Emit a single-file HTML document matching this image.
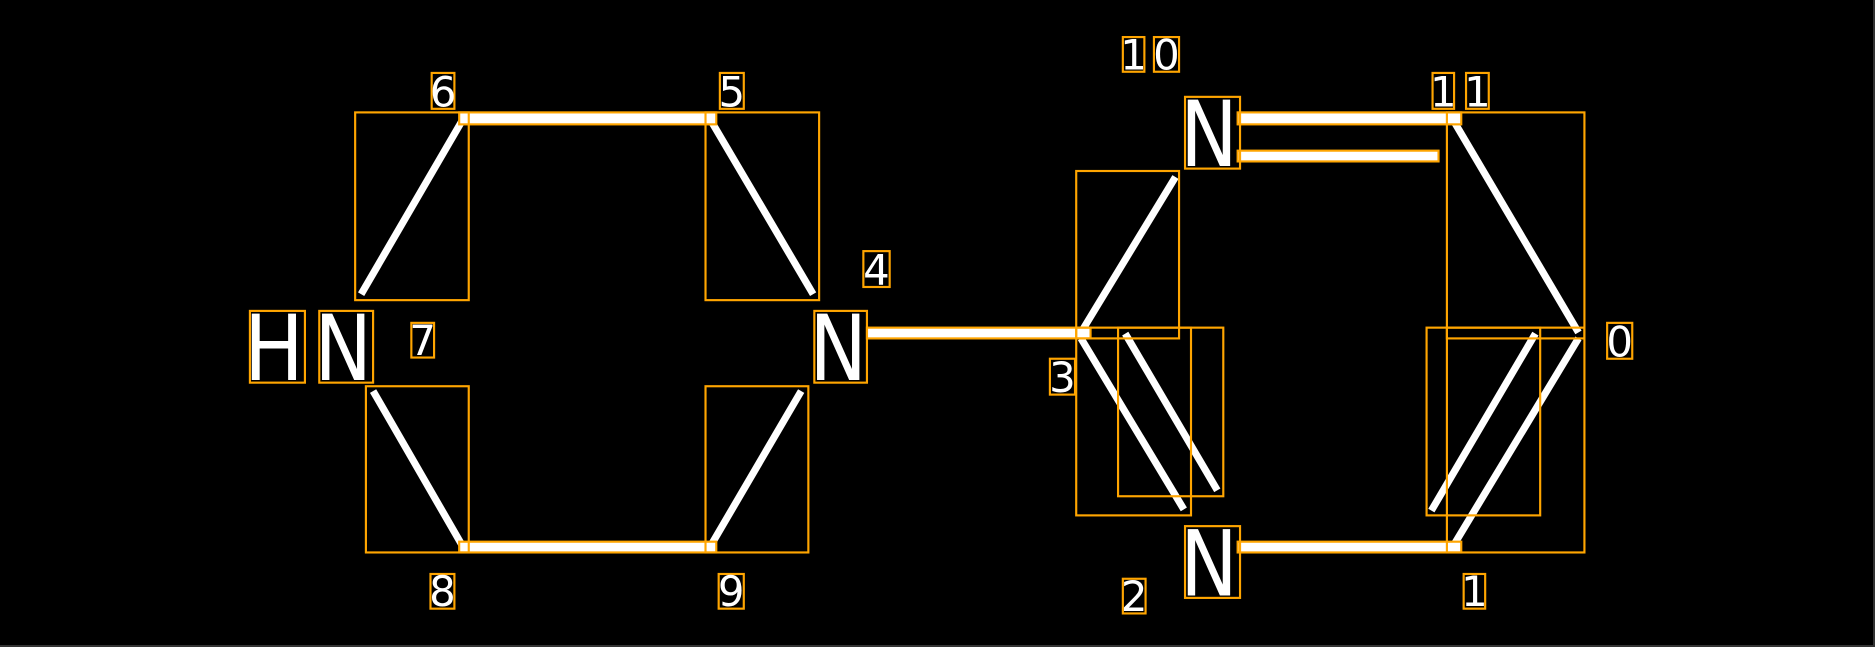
<!DOCTYPE html>
<html><head><style>
html,body{margin:0;padding:0;background:#000;}
svg{display:block;}
text{font-family:"DejaVu Sans","Liberation Sans",sans-serif;fill:#fff;}
</style></head><body>
<svg width="1875" height="647" viewBox="0 0 1875 647" xmlns="http://www.w3.org/2000/svg">
<rect x="0" y="0" width="1875" height="647" fill="#000"/>
<line x1="0" y1="646" x2="1875" y2="646" stroke="#333" stroke-width="2"/>
<line x1="1874" y1="0" x2="1874" y2="647" stroke="#333" stroke-width="2"/>
<g transform="scale(1.19579)">
<g stroke="#fff" stroke-width="6" stroke-linecap="butt">
<line x1="302" y1="246" x2="387" y2="100"/>
<line x1="594" y1="100" x2="680" y2="246"/>
<line x1="312" y1="327" x2="387" y2="457"/>
<line x1="594" y1="457" x2="670" y2="327"/>
<line x1="904" y1="278" x2="983" y2="148"/>
<line x1="1215" y1="100" x2="1320" y2="278"/>
<line x1="1320" y1="283" x2="1215" y2="457"/>
<line x1="1284" y1="279" x2="1197" y2="427"/>
<line x1="904" y1="283" x2="990" y2="426"/>
<line x1="941" y1="279" x2="1018" y2="410"/>
</g>
<g fill="#fff" stroke="none">
<rect x="384" y="94" width="215" height="10"/>
<rect x="384" y="453" width="215" height="9"/>
<rect x="725" y="274" width="187" height="9"/>
<rect x="1035" y="94" width="187" height="10"/>
<rect x="1035" y="126" width="168" height="9"/>
<rect x="1035" y="453" width="187" height="9"/>
</g>
<g fill="none" stroke="#FFA500" stroke-width="1.8">
<rect x="297" y="94" width="95" height="157"/>
<rect x="384" y="94" width="215" height="10"/>
<rect x="590" y="94" width="95" height="157"/>
<rect x="306" y="323" width="86" height="139"/>
<rect x="384" y="453" width="215" height="9"/>
<rect x="590" y="323" width="86" height="139"/>
<rect x="725" y="274" width="187" height="9"/>
<rect x="900" y="143" width="86" height="140"/>
<rect x="1035" y="94" width="187" height="10"/>
<rect x="1035" y="126" width="168" height="9"/>
<rect x="1210" y="94" width="115" height="189"/>
<rect x="1210" y="274" width="115" height="188"/>
<rect x="1193" y="274" width="95" height="157"/>
<rect x="1035" y="453" width="187" height="9"/>
<rect x="900" y="274" width="96" height="157"/>
<rect x="935" y="274" width="88" height="141"/>
<rect x="209" y="260" width="46" height="60"/>
<rect x="267" y="260" width="45" height="60"/>
<rect x="681" y="260" width="44" height="60"/>
<rect x="991" y="81" width="46" height="60"/>
<rect x="991" y="440" width="46" height="60"/>
<rect x="361" y="61" width="19" height="30"/>
<rect x="602" y="61" width="20" height="30"/>
<rect x="344" y="270" width="19" height="29"/>
<rect x="722" y="210" width="22" height="30"/>
<rect x="360" y="480" width="20" height="29"/>
<rect x="601" y="480" width="21" height="29"/>
<rect x="939" y="31" width="18" height="29"/>
<rect x="965" y="31" width="21" height="29"/>
<rect x="1198" y="61" width="18" height="30"/>
<rect x="1226" y="61" width="19" height="30"/>
<rect x="1344" y="270" width="21" height="30"/>
<rect x="878" y="300" width="21" height="30"/>
<rect x="939" y="484" width="19" height="29"/>
<rect x="1224" y="480" width="18" height="29"/>
</g>
<g font-size="76">
<text x="204" y="318" textLength="50" lengthAdjust="spacingAndGlyphs">H</text>
<text x="263" y="318" textLength="48" lengthAdjust="spacingAndGlyphs">N</text>
<text x="677" y="318" textLength="48" lengthAdjust="spacingAndGlyphs">N</text>
<text x="987" y="139" textLength="48" lengthAdjust="spacingAndGlyphs">N</text>
<text x="987" y="498" textLength="48" lengthAdjust="spacingAndGlyphs">N</text>
</g>
<g font-size="35" text-anchor="middle">
<text x="370.5" y="89">6</text>
<text x="612" y="89">5</text>
<text x="353.5" y="297">7</text>
<text x="733" y="238">4</text>
<text x="370" y="507">8</text>
<text x="611.5" y="507">9</text>
<text x="948" y="58">1</text>
<text x="975.5" y="58">0</text>
<text x="1207" y="89">1</text>
<text x="1235.5" y="89">1</text>
<text x="1354.5" y="298">0</text>
<text x="888.5" y="328">3</text>
<text x="948.5" y="511">2</text>
<text x="1233" y="507">1</text>
</g>
</g>
</svg>
</body></html>
